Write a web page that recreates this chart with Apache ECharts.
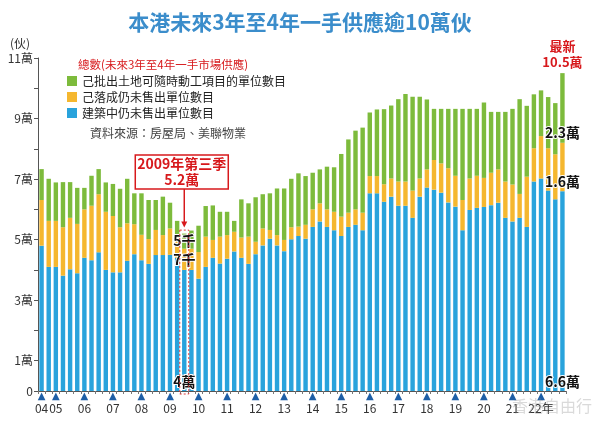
<!DOCTYPE html>
<html>
<head>
<meta charset="utf-8">
<script src="https://cdn.jsdelivr.net/npm/echarts@6/dist/echarts.min.js"></script>
<style>
html, body { margin: 0; padding: 0; background: #fff; }
#main { width: 600px; height: 425px; }
</style>
</head>
<body>
<div id="main"></div>
<script>
var FONT = '"Noto Sans CJK TC", "Noto Sans", sans-serif';

// 季度 (2004年第三季 至 2022年第四季)
var quarters = [
	'04Q3', '04Q4',
	'05Q1', '05Q2', '05Q3', '05Q4', '06Q1', '06Q2', '06Q3', '06Q4',
	'07Q1', '07Q2', '07Q3', '07Q4', '08Q1', '08Q2', '08Q3', '08Q4',
	'09Q1', '09Q2', '09Q3', '09Q4', '10Q1', '10Q2', '10Q3', '10Q4',
	'11Q1', '11Q2', '11Q3', '11Q4', '12Q1', '12Q2', '12Q3', '12Q4',
	'13Q1', '13Q2', '13Q3', '13Q4', '14Q1', '14Q2', '14Q3', '14Q4',
	'15Q1', '15Q2', '15Q3', '15Q4', '16Q1', '16Q2', '16Q3', '16Q4',
	'17Q1', '17Q2', '17Q3', '17Q4', '18Q1', '18Q2', '18Q3', '18Q4',
	'19Q1', '19Q2', '19Q3', '19Q4', '20Q1', '20Q2', '20Q3', '20Q4',
	'21Q1', '21Q2', '21Q3', '21Q4', '22Q1', '22Q2', '22Q3', '22Q4'
];

// x軸年份標籤
var yearTicks = {
	'04Q3': '04', '05Q1': '05', '06Q1': '06', '07Q1': '07', '08Q1': '08',
	'09Q1': '09', '10Q1': '10', '11Q1': '11', '12Q1': '12', '13Q1': '13',
	'14Q1': '14', '15Q1': '15', '16Q1': '16', '17Q1': '17', '18Q1': '18',
	'19Q1': '19', '20Q1': '20', '21Q1': '21', '22Q1': '22年'
};

// 建築中仍未售出單位數目 (萬伙)
var building = [
	4.80, 4.10, 4.10, 3.81, 4.02, 3.89, 4.40, 4.32, 4.58, 4.00,
	3.92, 3.92, 4.30, 4.52, 4.32, 4.20, 4.49, 4.49, 4.50, 4.40,
	4.00, 4.00, 3.71, 4.10, 4.40, 4.21, 4.37, 4.61, 4.40, 4.20,
	4.52, 4.81, 5.03, 4.81, 4.62, 5.01, 5.12, 5.03, 5.42, 5.60,
	5.42, 5.31, 5.12, 5.42, 5.49, 5.31, 6.53, 6.53, 6.25, 6.42,
	6.12, 6.12, 5.72, 6.42, 6.72, 6.65, 6.55, 6.23, 6.09, 5.31,
	5.98, 6.05, 6.08, 6.14, 6.22, 5.72, 5.60, 5.72, 5.42, 6.92,
	7.02, 6.62, 6.33, 6.60
];

// 已落成仍未售出單位數目 (萬伙)
var completed = [
	1.51, 1.52, 1.52, 1.60, 1.70, 1.63, 1.60, 1.80, 1.92, 1.92,
	1.86, 1.49, 1.24, 0.99, 0.84, 0.82, 0.83, 0.66, 0.87, 0.70,
	0.70, 0.70, 0.88, 1.00, 0.59, 0.89, 0.78, 0.65, 0.67, 0.90,
	0.41, 0.56, 0.29, 0.34, 0.37, 0.40, 0.31, 0.46, 0.58, 0.60,
	0.58, 0.61, 0.64, 0.47, 0.51, 0.58, 0.57, 0.57, 0.58, 0.60,
	0.80, 0.80, 0.90, 0.60, 0.60, 0.98, 0.97, 1.13, 1.02, 1.00,
	1.04, 1.06, 0.96, 1.07, 1.10, 1.20, 1.22, 0.79, 1.66, 1.10,
	1.40, 1.40, 1.49, 1.60
];

// 己批出土地可隨時動工項目的單位數目 (萬伙)
var landReady = [
	1.02, 1.39, 1.27, 1.49, 1.18, 1.19, 0.71, 0.99, 0.83, 0.97,
	1.06, 1.27, 1.47, 1.02, 1.37, 1.29, 0.99, 1.27, 0.85, 0.52,
	0.50, 0.60, 0.87, 1.01, 1.14, 0.82, 0.77, 0.36, 1.26, 1.10,
	1.47, 1.13, 1.21, 1.54, 1.70, 1.60, 1.76, 1.61, 1.21, 1.12,
	1.41, 1.47, 2.07, 2.42, 2.60, 2.81, 2.10, 2.20, 2.48, 2.41,
	2.72, 2.89, 3.10, 2.70, 2.31, 1.69, 1.80, 1.96, 2.21, 3.01,
	2.30, 2.21, 2.49, 2.01, 1.90, 2.30, 2.50, 3.13, 2.34, 1.78,
	1.51, 1.69, 1.69, 2.30
];

// 標示的季度及文字 [建築中, 已落成, 可動工]
var markIdx = 20; // 2009年第三季
var markTotal = 5.2;
var lastIdx = 73;
var lastTotal = 10.5;
var barTexts = {
	20: ['4萬', '7千', '5千'],
	73: ['6.6萬', '1.6萬', '2.3萬']
};

var names = ['己批出土地可隨時動工項目的單位數目', '己落成仍未售出單位數目', '建築中仍未售出單位數目'];
var colors = { green: '#7dbb3c', orange: '#f5b72f', blue: '#29a3dc' };

var blackLabel = {
	show: true,
	color: '#111',
	fontWeight: 'bold',
	fontSize: 14,
	fontFamily: FONT,
	textBorderColor: '#fff',
	textBorderWidth: 2
};

function withLabels(arr, k, pos) {
	return arr.map(function(v, i) {
		if (barTexts[i]) {
			var p = pos[i] || 'insideBottom';
			return {
				value: v,
				label: Object.assign({}, blackLabel, {
					formatter: barTexts[i][k],
					position: p,
					distance: i == lastIdx ? (k == 0 ? 2 : 3) : 2
				})
			};
		}
		return v;
	});
}

var chart = echarts.init(document.getElementById('main'));

var option = {
	animation: false,
	backgroundColor: '#fff',
	textStyle: { fontFamily: FONT },
	title: {
		text: '本港未來3年至4年一手供應逾10萬伙',
		left: 'center',
		top: 7,
		textStyle: {
			color: '#3b8dcb',
			fontSize: 21,
			fontWeight: 'bold',
			fontFamily: FONT
		}
	},
	legend: {
		orient: 'vertical',
		left: 62,
		top: 70,
		itemWidth: 10,
		itemHeight: 10,
		itemGap: 4,
		icon: 'rect',
		selectedMode: false,
		data: [names[0], names[1], names[2]],
		textStyle: { color: '#222', fontSize: 12, lineHeight: 12, fontFamily: FONT }
	},
	grid: { left: 38, right: 34, top: 58, bottom: 34 },
	xAxis: {
		type: 'category',
		data: quarters,
		axisLine: { lineStyle: { color: '#555' } },
		axisTick: { show: true, interval: 0, length: 3, lineStyle: { color: '#777' } },
		axisLabel: {
			interval: 0,
			margin: 1,
			formatter: function(v) {
				var y = yearTicks[v];
				return y ? '{t|▲}\n{y|' + y + '}' : '';
			},
			rich: {
				t: { color: '#1d5ea6', fontSize: 10, lineHeight: 9, fontFamily: 'DejaVu Sans' },
				y: { color: '#333', fontSize: 12, lineHeight: 14, fontFamily: FONT }
			}
		}
	},
	yAxis: {
		type: 'value',
		min: 0,
		max: 11,
		interval: 1,
		name: '(伙)',
		nameLocation: 'end',
		nameGap: 9,
		nameTextStyle: { color: '#333', fontSize: 12, align: 'right', padding: [0, 8, 0, 0] },
		axisLine: { show: true, lineStyle: { color: '#555' } },
		axisTick: { show: true, length: 4, lineStyle: { color: '#555' } },
		splitLine: { show: false },
		axisLabel: {
			color: '#333',
			fontSize: 12,
			margin: 5,
			formatter: function(v) {
				if (v == 0) return '0';
				return v % 2 == 1 ? v + '萬' : '';
			}
		}
	},
	series: [
		{
			name: names[2],
			type: 'bar',
			stack: 'total',
			barCategoryGap: '38%',
			itemStyle: { color: colors.blue },
			data: withLabels(building, 0, {})
		},
		{
			name: names[1],
			type: 'bar',
			stack: 'total',
			itemStyle: { color: colors.orange },
			data: withLabels(completed, 1, { 20: 'inside' })
		},
		{
			name: names[0],
			type: 'bar',
			stack: 'total',
			itemStyle: { color: colors.green },
			data: withLabels(landReady, 2, { 20: 'inside' }),
			markPoint: {
				symbol: 'circle',
				symbolSize: 1,
				itemStyle: { color: 'rgba(0,0,0,0)' },
				label: {
					show: true,
					position: 'top',
					distance: 3,
					color: '#d7191c',
					fontWeight: 'bold',
					fontSize: 13,
					lineHeight: 16,
					fontFamily: FONT,
					formatter: '最新\n' + lastTotal + '萬'
				},
				data: [{ coord: [lastIdx, lastTotal] }]
			}
		}
	]
};

chart.setOption(option);

// 2009年第三季的標示
var pTop = chart.convertToPixel({ gridIndex: 0 }, [markIdx, markTotal]);
var pBot = chart.convertToPixel({ gridIndex: 0 }, [markIdx, 0]);
var cx = pTop[0];
var tip = pTop[1] - 6;
var red = '#d7191c';

chart.setOption({
	graphic: [
		{
			type: 'text',
			left: 78,
			top: 59,
			style: {
				text: '總數(未來3年至4年一手市場供應)',
				fill: red,
				font: '11.5px ' + FONT
			}
		},
		{
			type: 'text',
			left: 90,
			top: 127,
			style: {
				text: '資料來源：房屋局、美聯物業',
				fill: '#444',
				font: '12px ' + FONT
			}
		},
		{
			type: 'rect',
			shape: { x: cx - 4.5, y: pTop[1] - 3.5, width: 9, height: pBot[1] - pTop[1] + 6.5 },
			style: { fill: 'none', stroke: '#e23a3a', lineWidth: 1, lineDash: [2, 2] },
			z: 10
		},
		{
			type: 'line',
			shape: { x1: cx, y1: 189, x2: cx, y2: tip - 4 },
			style: { stroke: red, lineWidth: 1.5 },
			z: 10
		},
		{
			type: 'polygon',
			shape: { points: [[cx - 3, tip - 6], [cx + 3, tip - 6], [cx, tip]] },
			style: { fill: red },
			z: 10
		},
		{
			type: 'rect',
			shape: { x: cx - 49, y: 155, width: 93, height: 34 },
			style: { fill: '#fff', stroke: red, lineWidth: 1.5 },
			z: 10
		},
		{
			type: 'text',
			x: cx - 2.5,
			y: 172,
			style: {
				text: '2009年第三季\n5.2萬',
				fill: red,
				font: 'bold 14px ' + FONT,
				align: 'center',
				verticalAlign: 'middle',
				lineHeight: 16
			},
			z: 11
		},
		{
			type: 'text',
			left: 512,
			top: 398,
			style: {
				text: '香港自由行',
				fill: 'rgba(150,150,150,0.35)',
				font: '16px ' + FONT
			},
			z: 12
		}
	]
});
</script>
</body>
</html>
